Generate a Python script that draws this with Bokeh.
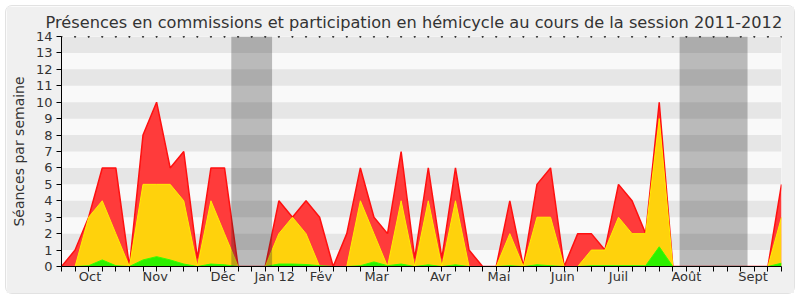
from bokeh.plotting import figure
from bokeh.models import FixedTicker, BoxAnnotation, Range1d
from bokeh.embed import file_html
from bokeh.resources import INLINE

# ---- data (weekly values, session 2011-2012) ----
weeks = list(range(54))
red = [0, 1, 3, 6, 6, 0, 8, 10, 6, 7, 0.5, 6, 6, 0, 0, 0, 4, 3, 4, 3,
       0, 2, 6, 3, 2, 7, 0.5, 6, 0.5, 6, 1, 0, 0, 4, 0, 5, 6, 0, 2, 2,
       1, 5, 4, 2, 10, 0, 0, 0, 0, 0, 0, 0, 0, 5]
yellow = [0, 0, 3, 4, 2, 0, 5, 5, 5, 4, 0, 4, 2, 0, 0, 0, 2, 3, 2, 0,
          0, 0, 4, 2, 0, 4, 0, 4, 0, 4, 0, 0, 0, 2, 0, 3, 3, 0, 0, 1,
          1, 3, 2, 2, 9, 0, 0, 0, 0, 0, 0, 0, 0, 3]
green = [0, 0, 0.05, 0.4, 0.05, 0, 0.4, 0.6, 0.4, 0.15, 0, 0.15, 0.1, 0, 0, 0, 0.15, 0.15, 0.12, 0.05,
         0, 0, 0.05, 0.28, 0.05, 0.15, 0, 0.1, 0, 0.1, 0, 0, 0, 0.05, 0, 0.1, 0.05, 0, 0, 0.05,
         0.05, 0.05, 0.05, 0.05, 1.2, 0, 0, 0, 0, 0, 0, 0, 0, 0.2]
month_labels = ["Oct", "Nov", "Déc", "Jan 12", "Fév", "Mar", "Avr", "Mai", "Juin", "Juil", "Août", "Sept"]
month_pos = [2.1, 6.9, 11.9, 15.7, 19.1, 23.2, 27.9, 32.2, 36.9, 41.0, 46.0, 50.9]
vacation_start = [12.5, 45.5]
vacation_end = [15.5, 50.5]
y_ticks = list(range(15))

FONT = "DejaVu Sans"
TXT = "#333333"

p = figure(width=788, height=287, output_backend="svg", toolbar_location=None,
           x_range=Range1d(weeks[0], weeks[-1]), y_range=Range1d(y_ticks[0], y_ticks[-1]),
           title="Présences en commissions et participation en hémicycle au cours de la session 2011-2012")
p.margin = (6, 6, 7, 6)
p.min_border_left = 55
p.min_border_right = 13
p.min_border_top = 30
p.min_border_bottom = 27
p.border_fill_color = "#f0f0f0"
p.background_fill_color = "#f9f9f9"
p.outline_line_color = None
p.styles = {"border-radius": "6px", "outline": "1px solid #e2e2e2"}

p.title.text_font = FONT
p.title.text_font_size = "16.2px"
p.title.text_font_style = "normal"
p.title.text_color = TXT
p.title.align = "left"
p.title.offset = -16
p.title.standoff = 9

# grid bands
p.xgrid.visible = False
p.ygrid.grid_line_color = None
p.ygrid.band_fill_color = "#e6e6e6"
p.ygrid.band_fill_alpha = 1.0
p.ygrid.ticker = FixedTicker(ticks=y_ticks)

# areas
p.varea(x=weeks, y1=0, y2=red, fill_color="#ff3b3b")
p.line(weeks, red, line_color="#ff1010", line_width=1.5)
p.varea(x=weeks, y1=0, y2=yellow, fill_color="#ffd20c")
p.line(weeks, yellow, line_color="#ffee00", line_width=1)
p.varea(x=weeks, y1=0, y2=green, fill_color="#2cf000")
p.line(weeks, green, line_color="#33ff00", line_width=1)

for a, b in zip(vacation_start, vacation_end):
    p.add_layout(BoxAnnotation(left=a, right=b, fill_color="#282828", fill_alpha=0.3, line_color=None))

# top week marks
p.scatter(x=weeks, y=[y_ticks[-1]] * len(weeks), marker="square", size=1.2, color="black")

# x axis
xa = p.xaxis[0]
xa.ticker = FixedTicker(ticks=month_pos, minor_ticks=weeks)
xa.major_label_overrides = {pos: lab for pos, lab in zip(month_pos, month_labels)}
xa.major_tick_out = 0
xa.major_tick_in = 0
xa.minor_tick_out = 5
xa.minor_tick_in = 0
xa.minor_tick_line_color = "black"
xa.axis_line_color = "black"
xa.major_label_standoff = -3
xa.major_label_text_font = FONT
xa.major_label_text_font_size = "13px"
xa.major_label_text_color = TXT

# y axis
ya = p.yaxis[0]
ya.ticker = FixedTicker(ticks=y_ticks)
ya.major_tick_out = 5
ya.major_tick_in = 0
ya.minor_tick_out = 0
ya.minor_tick_in = 0
ya.axis_line_color = "black"
ya.major_tick_line_color = "black"
ya.major_label_standoff = 4
ya.major_label_text_font = FONT
ya.major_label_text_font_size = "13px"
ya.major_label_text_color = TXT
ya.axis_label = "Séances par semaine"
ya.axis_label_text_font = FONT
ya.axis_label_text_font_size = "14px"
ya.axis_label_text_font_style = "normal"
ya.axis_label_text_color = TXT
ya.axis_label_standoff = 6

open("out.html", "w").write(file_html(p, INLINE))
